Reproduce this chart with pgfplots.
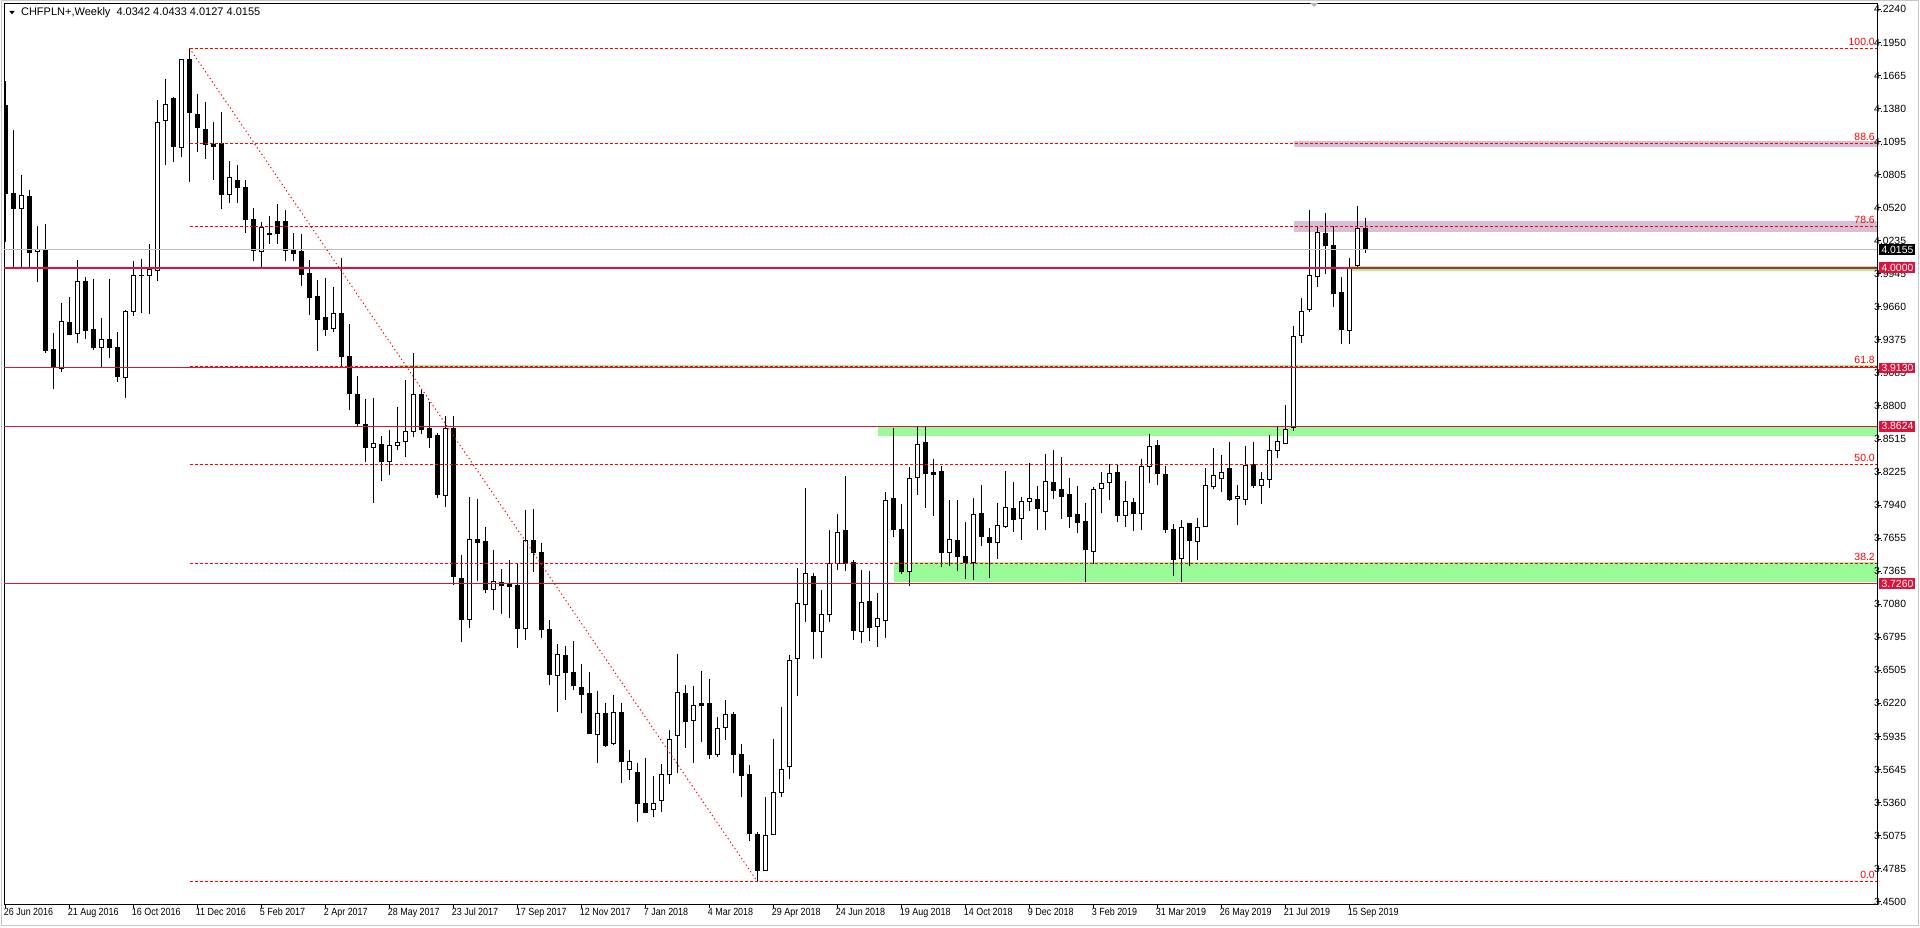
\documentclass[border=0pt]{standalone}
\usepackage{pgfplots}
\pgfplotsset{compat=1.18}
\usepackage{pgfplotstable}
\usepackage{fontspec}
\setmainfont{Liberation Sans}
\newfontfamily\narrowfont[FakeStretch=0.86]{Liberation Sans}
\newcommand\mtfont{\fontsize{5.2}{5.8}\selectfont}
\definecolor{crim}{HTML}{DC143C}
\definecolor{pgreen}{HTML}{98FB98}
\definecolor{thist}{HTML}{D8BFD8}
\definecolor{silv}{HTML}{C0C0C0}

% weekly candles: index (0 = 26 Jun 2016), open, high, low, close
\pgfplotstableread{
i o h l c
0 4.1408 4.1619 4.0225 4.0644
1 4.0644 4.1194 4.0005 4.0511
2 4.0511 4.0800 4.0005 4.0627
3 4.0621 4.0670 4.0005 4.0129
4 4.0141 4.0361 3.9878 4.0158
5 4.0158 4.0375 3.9262 3.9279
6 3.9291 3.9430 3.8950 3.9132
7 3.9126 3.9690 3.9097 3.9534
8 3.9525 3.9745 3.9415 3.9424
9 3.9430 4.0066 3.9343 3.9881
10 3.9881 3.9918 3.9383 3.9456
11 3.9464 3.9901 3.9285 3.9305
12 3.9305 3.9560 3.9141 3.9378
13 3.9378 3.9901 3.9219 3.9305
14 3.9308 3.9441 3.9011 3.9054
15 3.9048 3.9632 3.8872 3.9621
16 3.9621 4.0057 3.9583 3.9933
17 3.9930 4.0072 3.9609 3.9935
18 3.9933 4.0202 3.9595 3.9985
19 3.9979 4.1454 3.9887 4.1260
20 4.1272 4.1636 4.0893 4.1416
21 4.1468 4.1477 4.0919 4.1049
22 4.1043 4.1807 4.0962 4.1807
23 4.1807 4.1902 4.0745 4.1344
24 4.1324 4.1506 4.1006 4.1214
25 4.1194 4.1436 4.0945 4.1069
26 4.1069 4.1263 4.0763 4.1052
27 4.1078 4.1350 4.0511 4.0633
28 4.0633 4.0925 4.0563 4.0783
29 4.0757 4.0890 4.0563 4.0693
30 4.0693 4.0760 4.0300 4.0420
31 4.0420 4.0520 4.0061 4.0147
32 4.0139 4.0400 4.0009 4.0350
33 4.0300 4.0450 4.0205 4.0290
34 4.0400 4.0550 4.0205 4.0300
35 4.0400 4.0500 4.0061 4.0147
36 4.0145 4.0300 4.0061 4.0124
37 4.0136 4.0290 3.9844 3.9939
38 3.9945 4.0067 3.9592 3.9740
39 3.9751 3.9890 3.9280 3.9549
40 3.9569 3.9910 3.9410 3.9462
41 3.9471 3.9832 3.9442 3.9604
42 3.9604 4.0081 3.9133 3.9228
43 3.9231 3.9508 3.8768 3.8907
44 3.8901 3.9060 3.8629 3.8647
45 3.8641 3.8858 3.8317 3.8439
46 3.8442 3.8867 3.7961 3.8476
47 3.8468 3.8540 3.8152 3.8317
48 3.8317 3.8589 3.8204 3.8459
49 3.8459 3.8791 3.8418 3.8485
50 3.8494 3.9026 3.8361 3.8580
51 3.8577 3.9257 3.8528 3.8901
52 3.8901 3.8939 3.8557 3.8595
53 3.8606 3.8832 3.8439 3.8525
54 3.8540 3.8563 3.8005 3.8031
55 3.8022 3.8713 3.7927 3.8606
56 3.8606 3.8713 3.7250 3.7320
57 3.7305 3.7508 3.6750 3.6950
58 3.6950 3.8011 3.6871 3.7643
59 3.7643 3.7993 3.7285 3.7615
60 3.7626 3.7750 3.7181 3.7207
61 3.7207 3.7551 3.7030 3.7279
62 3.7270 3.7386 3.6996 3.7244
63 3.7247 3.7464 3.6961 3.7233
64 3.7239 3.7435 3.6701 3.6868
65 3.6868 3.7898 3.6773 3.7635
66 3.7635 3.7907 3.7360 3.7528
67 3.7531 3.7609 3.6790 3.6860
68 3.6857 3.6944 3.6380 3.6469
69 3.6464 3.6735 3.6148 3.6646
70 3.6637 3.6715 3.6253 3.6487
71 3.6490 3.6761 3.6334 3.6374
72 3.6362 3.6559 3.6134 3.6296
73 3.6308 3.6490 3.5952 3.5958
74 3.5952 3.6328 3.5706 3.6134
75 3.6134 3.6224 3.5845 3.5853
76 3.5874 3.6293 3.5859 3.6143
77 3.6143 3.6224 3.5527 3.5718
78 3.5648 3.5816 3.5559 3.5718
79 3.5622 3.5700 3.5194 3.5353
80 3.5353 3.5744 3.5267 3.5275
81 3.5301 3.5590 3.5238 3.5353
82 3.5379 3.5694 3.5275 3.5605
83 3.5605 3.5989 3.5518 3.5908
84 3.5943 3.6649 3.5614 3.6316
85 3.6308 3.6380 3.5836 3.6062
86 3.6073 3.6371 3.5706 3.6206
87 3.6215 3.6501 3.5882 3.6200
88 3.6215 3.6432 3.5735 3.5775
89 3.5778 3.6102 3.5758 3.6004
90 3.6012 3.6250 3.5906 3.6125
91 3.6125 3.6143 3.5614 3.5775
92 3.5778 3.5868 3.5411 3.5596
93 3.5605 3.5686 3.5029 3.5093
94 3.5087 3.5105 3.4668 3.4769
95 3.4769 3.5411 3.4769 3.5076
96 3.5084 3.5911 3.5076 3.5449
97 3.5449 3.6189 3.5411 3.5648
98 3.5674 3.6637 3.5562 3.6594
99 3.6611 3.7395 3.6287 3.7088
100 3.7079 3.8089 3.6929 3.7348
101 3.7322 3.7351 3.6608 3.6842
102 3.6845 3.7204 3.6617 3.6993
103 3.6993 3.7724 3.6929 3.7435
104 3.7435 3.7863 3.7380 3.7704
105 3.7721 3.8193 3.7372 3.7435
106 3.7444 3.7461 3.6767 3.6854
107 3.6845 3.7377 3.6747 3.7097
108 3.7105 3.7369 3.6764 3.6877
109 3.6889 3.7178 3.6712 3.6958
110 3.6941 3.8051 3.6790 3.7982
111 3.7999 3.8606 3.7666 3.7730
112 3.7730 3.7950 3.7346 3.7363
113 3.7366 3.8268 3.7241 3.8172
114 3.8181 3.8621 3.8031 3.8467
115 3.8485 3.8621 3.7918 3.8213
116 3.8225 3.8337 3.7849 3.8207
117 3.8233 3.8279 3.7406 3.7528
118 3.7531 3.7985 3.7415 3.7643
119 3.7635 3.7985 3.7372 3.7493
120 3.7496 3.7791 3.7302 3.7441
121 3.7441 3.8002 3.7293 3.7860
122 3.7869 3.8115 3.7588 3.7667
123 3.7661 3.7739 3.7311 3.7615
124 3.7615 3.7956 3.7473 3.7765
125 3.7753 3.8236 3.7745 3.7921
126 3.7912 3.8141 3.7710 3.7814
127 3.7825 3.8008 3.7640 3.7973
128 3.7973 3.8303 3.7892 3.7999
129 3.7990 3.8106 3.7727 3.7912
130 3.7886 3.8384 3.7727 3.8147
131 3.8138 3.8415 3.7993 3.8068
132 3.8077 3.8355 3.7823 3.8013
133 3.8034 3.8172 3.7745 3.7840
134 3.7860 3.8103 3.7701 3.7788
135 3.7799 3.7956 3.7276 3.7554
136 3.7536 3.8094 3.7432 3.8077
137 3.8086 3.8227 3.7869 3.8129
138 3.8138 3.8294 3.7982 3.8210
139 3.8225 3.8285 3.7797 3.7849
140 3.7852 3.8149 3.7753 3.7973
141 3.7964 3.7999 3.7719 3.7869
142 3.7869 3.8337 3.7727 3.8277
143 3.8277 3.8557 3.8135 3.8450
144 3.8459 3.8502 3.8118 3.8216
145 3.8207 3.8277 3.7701 3.7727
146 3.7730 3.7773 3.7328 3.7467
147 3.7476 3.7808 3.7276 3.7747
148 3.7782 3.7782 3.7415 3.7632
149 3.7623 3.7826 3.7464 3.7747
150 3.7756 3.8262 3.7756 3.8111
151 3.8103 3.8435 3.8076 3.8198
152 3.8172 3.8371 3.8050 3.8224
153 3.8259 3.8484 3.7978 3.7990
154 3.7998 3.8111 3.7770 3.8016
155 3.7990 3.8449 3.7938 3.8285
156 3.8293 3.8484 3.8091 3.8111
157 3.8111 3.8224 3.7946 3.8163
158 3.8163 3.8545 3.8085 3.8415
159 3.8415 3.8617 3.8345 3.8493
160 3.8475 3.8805 3.8475 3.8597
161 3.8614 3.9490 3.8580 3.9404
162 3.9412 3.9733 3.9349 3.9621
163 3.9638 4.0497 3.9612 3.9933
164 3.9924 4.0358 3.9834 4.0306
165 4.0297 4.0471 3.9941 4.0193
166 4.0193 4.0361 3.9661 3.9777
167 3.9785 3.9915 3.9334 3.9464
168 3.9456 4.0080 3.9334 3.9991
169 4.0020 4.0534 3.9985 4.0340
170 4.0342 4.0433 4.0127 4.0155
}\candles

\pgfplotsset{
  chartbox/.style={
    at={(0,0)}, anchor=south west, scale only axis,
    width=936.5pt, height=450pt,
    xmin=-0.1875, xmax=233.9375, ymin=3.44798, ymax=4.22868,
  },
}

\begin{document}
\begin{tikzpicture}
\useasboundingbox (-2pt,-11.5pt) rectangle (958pt,452pt);
\draw[gray!45, line width=0.5pt] (-1.5pt,451.5pt) rectangle (957pt,-10.5pt);

% zones and wicks
\begin{axis}[chartbox, hide axis]
\addplot[fill=thist, draw=none] coordinates {(161,4.1050) (233.9375,4.1050) (233.9375,4.1095) (161,4.1095)} -- cycle;
\addplot[fill=thist, draw=none] coordinates {(161,4.0312) (233.9375,4.0312) (233.9375,4.0404) (161,4.0404)} -- cycle;
\addplot[fill=pgreen, draw=none] coordinates {(168,3.9973) (233.9375,3.9973) (233.9375,4.0014) (168,4.0014)} -- cycle;
\addplot[fill=pgreen, draw=none] coordinates {(49,3.9133) (233.9375,3.9133) (233.9375,3.9155) (49,3.9155)} -- cycle;
\addplot[fill=pgreen, draw=none] coordinates {(109,3.8543) (233.9375,3.8543) (233.9375,3.8622) (109,3.8622)} -- cycle;
\addplot[fill=pgreen, draw=none] coordinates {(111,3.7276) (233.9375,3.7276) (233.9375,3.7446) (111,3.7446)} -- cycle;
\addplot[draw=none, mark=none, error bars/.cd, y dir=plus, y explicit, error mark=none,
  error bar style={draw=black, line width=0.5pt}]
  table[x=i, y=l, y error expr=\thisrow{h}-\thisrow{l}] {\candles};
\end{axis}

% candle bodies
\begin{axis}[chartbox, hide axis, ybar stacked, bar width=0.45]
\addplot[draw=none, fill=none] table[x=i, y expr={min(\thisrow{o},\thisrow{c})}] {\candles};
\addplot[draw=black, fill=white, line width=0.5pt] table[x=i, y expr={max(\thisrow{c}-\thisrow{o},0)}] {\candles};
\addplot[draw=black, fill=black, line width=0.5pt] table[x=i, y expr={max(\thisrow{o}-\thisrow{c},0)}] {\candles};
\end{axis}

% lines, levels, axes
\begin{axis}[chartbox,
  axis line style={black, line width=0.5pt},
  tick align=outside, major tick length=2pt,
  tick style={black, line width=0.5pt},
  xtick pos=left, xticklabel pos=left,
  ytick pos=right, yticklabel pos=right,
  xtick={0,8,...,168},
  xticklabels={26 Jun 2016, 21 Aug 2016, 16 Oct 2016, 11 Dec 2016, 5 Feb 2017, 2 Apr 2017, 28 May 2017, 23 Jul 2017, 17 Sep 2017, 12 Nov 2017, 7 Jan 2018, 4 Mar 2018, 29 Apr 2018, 24 Jun 2018, 19 Aug 2018, 14 Oct 2018, 9 Dec 2018, 3 Feb 2019, 31 Mar 2019, 26 May 2019, 21 Jul 2019, 15 Sep 2019},
  x tick label style={font=\narrowfont\mtfont, anchor=north west, inner sep=0pt, xshift=-1pt},
  ytick={3.45,3.478667,3.507333,3.536,3.564667,3.593333,3.622,3.650667,3.679333,3.708,3.736667,3.765333,3.794,3.822667,3.851333,3.88,3.908667,3.937333,3.966,3.994667,4.023333,4.052,4.080667,4.109333,4.138,4.166667,4.195333,4.224},
  yticklabels={3.4500,3.4785,3.5075,3.5360,3.5645,3.5935,3.6220,3.6505,3.6795,3.7080,3.7365,3.7655,3.7940,3.8225,3.8515,3.8800,3.9085,3.9375,3.9660,3.9945,4.0235,4.0520,4.0805,4.1095,4.1380,4.1665,4.1950,4.2240},
  y tick label style={font=\mtfont, anchor=west, inner sep=0pt, xshift=-3.6pt},
]
\addplot[silv, line width=0.5pt] coordinates {(-0.1875,4.0155) (233.9375,4.0155)};
\addplot[crim, line width=1pt] coordinates {(-0.1875,4.0) (233.9375,4.0)};
\addplot[crim, line width=0.5pt] coordinates {(-0.1875,3.913) (233.9375,3.913)};
\addplot[crim, line width=0.5pt] coordinates {(-0.1875,3.8624) (233.9375,3.8624)};
\addplot[crim, line width=0.5pt] coordinates {(-0.1875,3.726) (233.9375,3.726)};
% fibonacci retracement 4.1903 -> 3.4673
\addplot[red, line width=0.5pt, dash pattern=on 0.6pt off 1.4pt] coordinates {(23,4.1903) (94,3.4673)};
\pgfplotsinvokeforeach{4.1903,4.1079,4.0356,3.9141,3.8288,3.7435,3.4673}{
  \addplot[red, line width=0.5pt, dash pattern=on 1.5pt off 1pt] coordinates {(23,#1) (233.9375,#1)};
}
\node[font=\mtfont, text=red, anchor=south east, inner sep=0pt] at (axis cs:233.7,4.1925) {100.0};
\node[font=\mtfont, text=red, anchor=south east, inner sep=0pt] at (axis cs:233.7,4.1101) {88.6};
\node[font=\mtfont, text=red, anchor=south east, inner sep=0pt] at (axis cs:233.7,4.0378) {78.6};
\node[font=\mtfont, text=red, anchor=south east, inner sep=0pt] at (axis cs:233.7,3.9163) {61.8};
\node[font=\mtfont, text=red, anchor=south east, inner sep=0pt] at (axis cs:233.7,3.8310) {50.0};
\node[font=\mtfont, text=red, anchor=south east, inner sep=0pt] at (axis cs:233.7,3.7457) {38.2};
\node[font=\mtfont, text=red, anchor=south east, inner sep=0pt] at (axis cs:233.7,3.4695) {0.0};
\coordinate (tBid) at (axis cs:233.9375,4.0155);
\coordinate (tA) at (axis cs:233.9375,4.0);
\coordinate (tB) at (axis cs:233.9375,3.913);
\coordinate (tC) at (axis cs:233.9375,3.8624);
\coordinate (tD) at (axis cs:233.9375,3.726);
\end{axis}

\tikzset{tag/.style={anchor=west, text=white, font=\mtfont, inner sep=0pt, minimum width=18pt, minimum height=5.4pt}}
\node[tag, fill=black] at ([xshift=1pt]tBid) {4.0155};
\node[tag, fill=crim] at ([xshift=1pt]tA) {4.0000};
\node[tag, fill=crim] at ([xshift=1pt]tB) {3.9130};
\node[tag, fill=crim] at ([xshift=1pt]tC) {3.8624};
\node[tag, fill=crim] at ([xshift=1pt]tD) {3.7260};

% header
\fill (2.65pt,446.5pt) -- (5.35pt,446.5pt) -- (4pt,444.85pt) -- cycle;
\node[anchor=west, font=\fontsize{5.5}{6}\selectfont, inner sep=0pt] at (8.35pt,445.65pt) {CHFPLN+,Weekly\ \ 4.0342 4.0433 4.0127 4.0155};
\fill[gray!55] (653pt,450.5pt) -- (657pt,450.5pt) -- (655pt,448.5pt) -- cycle;
\end{tikzpicture}
\end{document}
